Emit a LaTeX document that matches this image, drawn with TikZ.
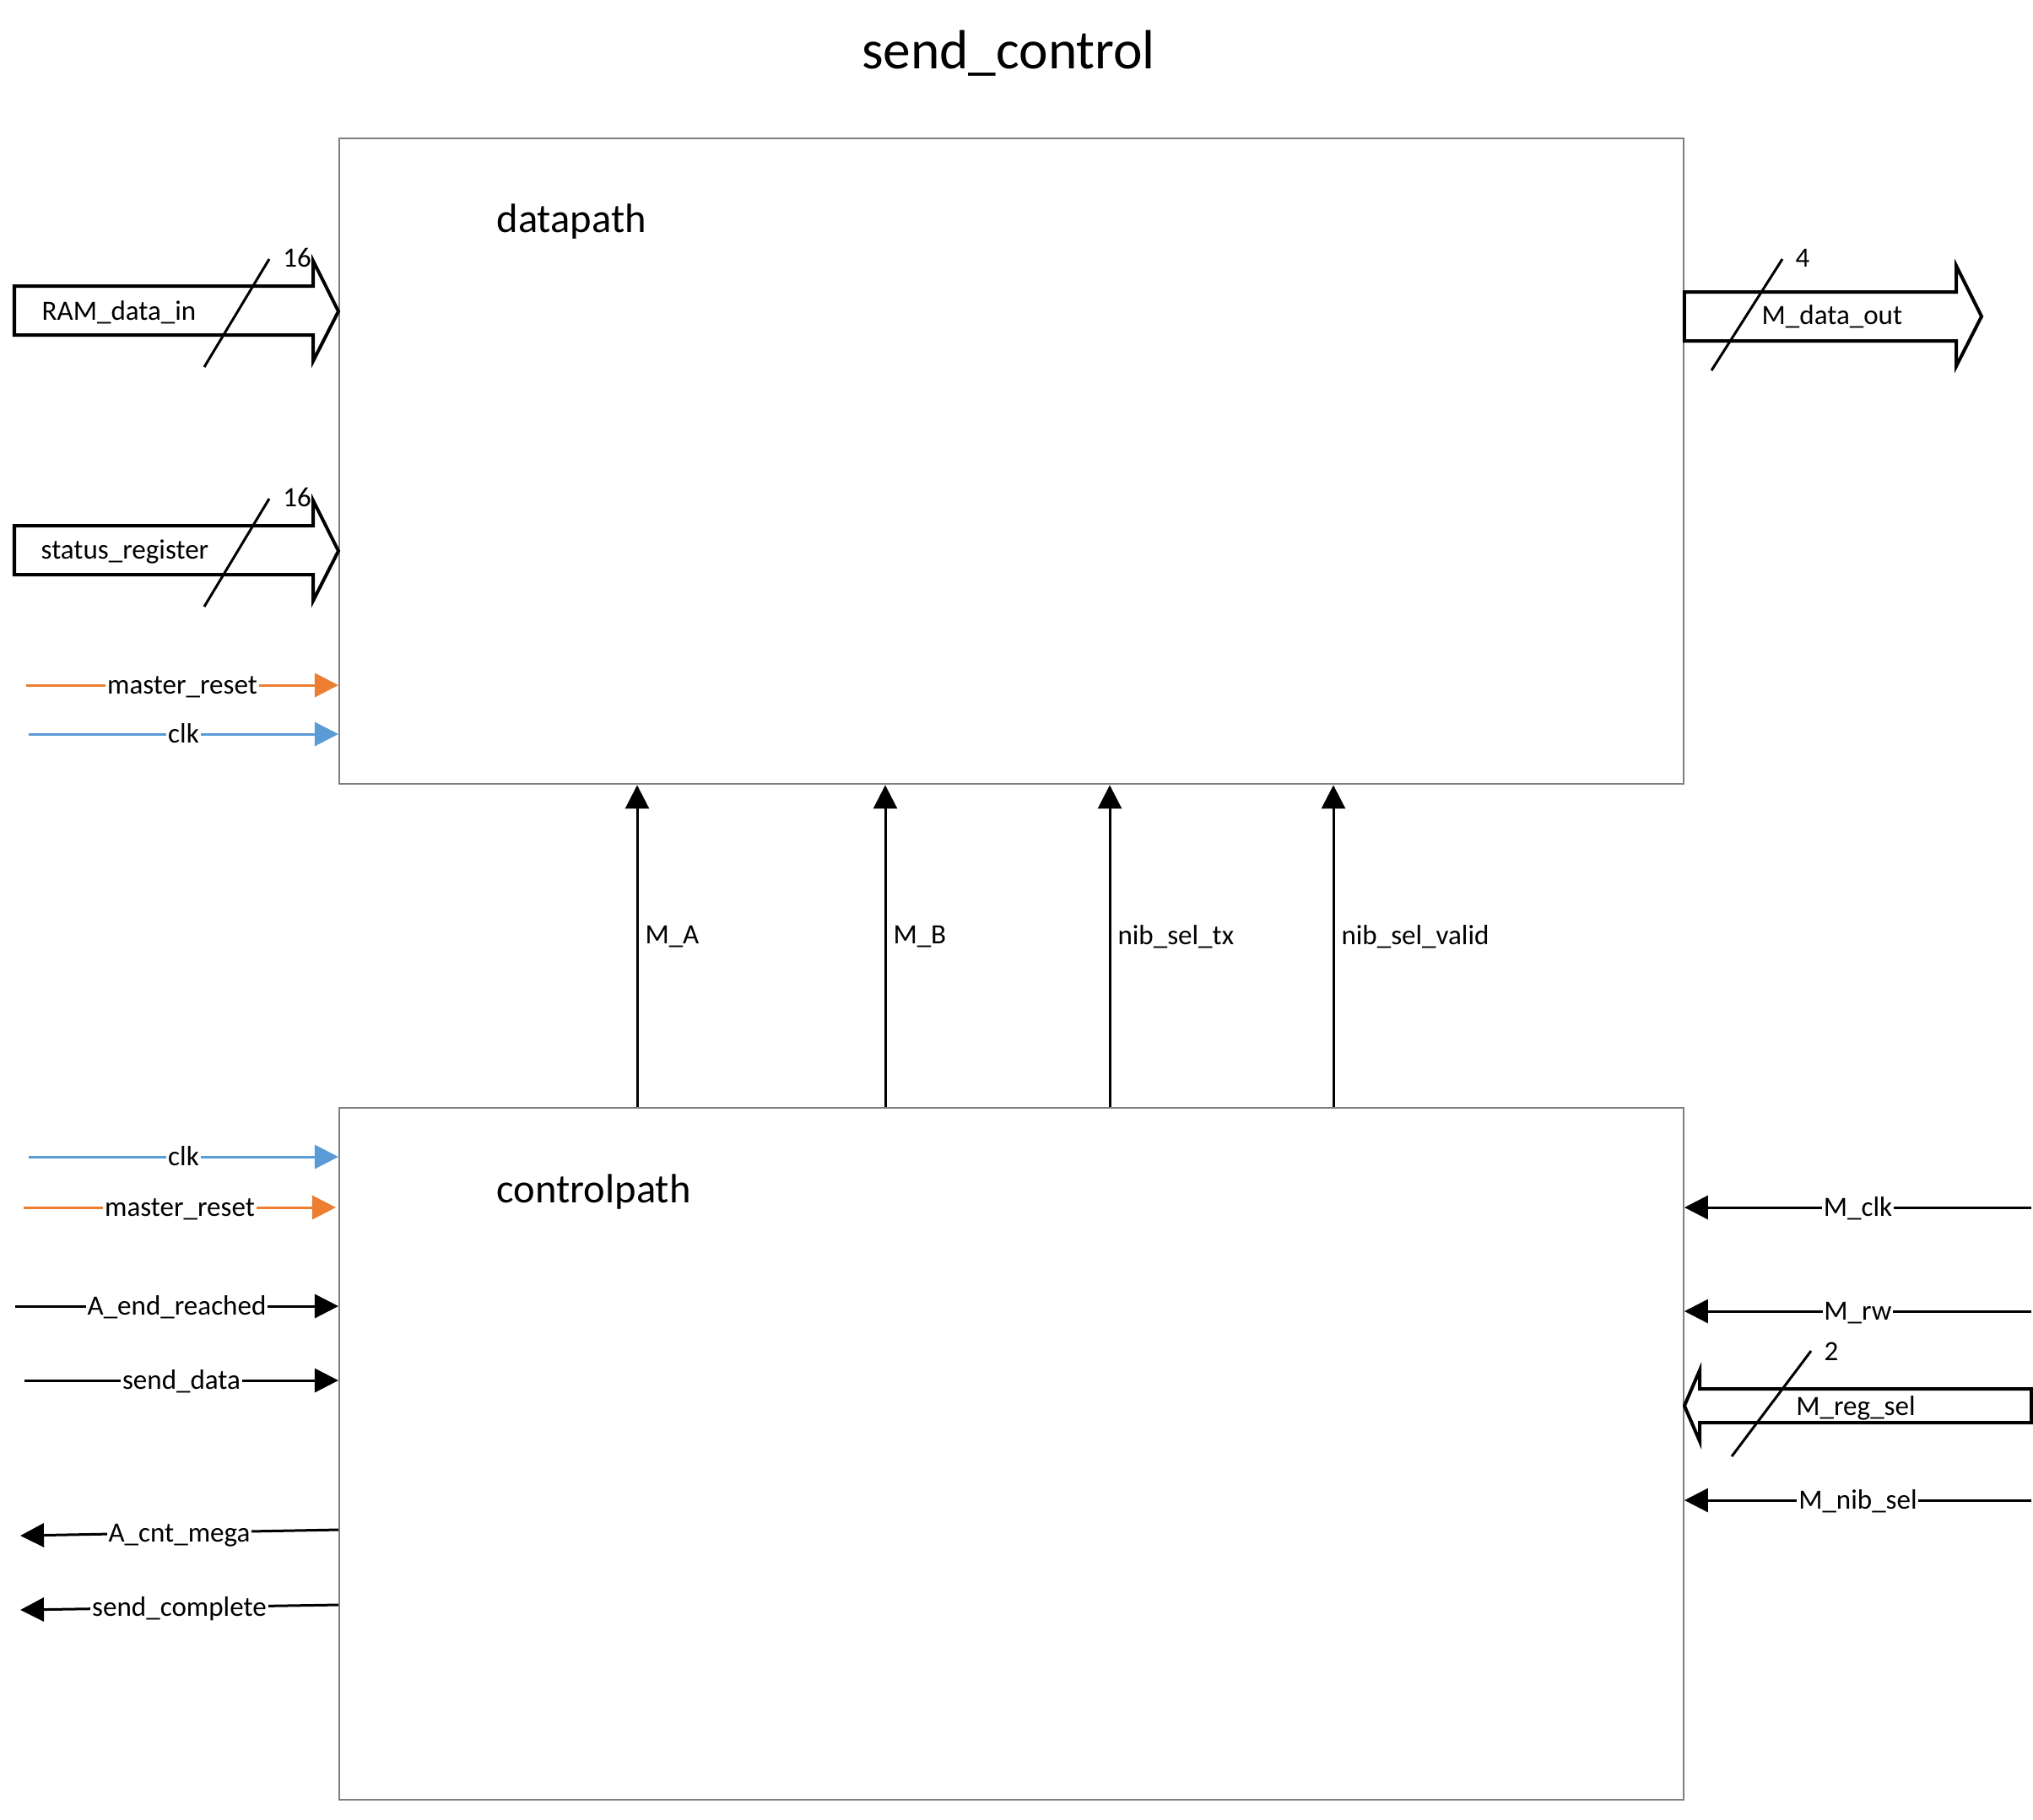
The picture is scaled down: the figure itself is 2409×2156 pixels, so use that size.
\documentclass[tikz,border=0pt]{standalone}
\usepackage{fontspec}
\setmainfont{Carlito}
\usetikzlibrary{arrows.meta,calc}
\definecolor{rstorange}{HTML}{ED7D31}
\definecolor{clkblue}{HTML}{5B9BD5}
\definecolor{boxgray}{HTML}{7F7F7F}

\begin{document}
\begin{tikzpicture}[x=0.01cm, y=-0.01cm]
  \tikzstyle{block}=[draw=boxgray, line width=0.02cm, anchor=north west, inner sep=0pt]
  \tikzstyle{blocklbl}=[font=\fontsize{13.8}{16}\selectfont, anchor=base west, inner sep=0pt]
  \tikzstyle{sig}=[line width=0.03cm, -{Triangle[length=0.28cm, width=0.28cm]}]
  \tikzstyle{lbl}=[font=\fontsize{9.4}{11}\selectfont, fill=white, inner xsep=0.5pt, inner ysep=0pt, text height=0.62em, text depth=0pt]
  \tikzstyle{txt}=[font=\fontsize{9.4}{11}\selectfont, inner sep=0pt]
  \tikzstyle{bus}=[line width=0.04cm, line join=miter]
  \tikzstyle{slash}=[line width=0.03cm]
%  \tikzstyle{every node}=[draw]
  \useasboundingbox (0,0) rectangle (2409,2156);

  \node[font=\fontsize{18.6}{22}\selectfont, anchor=base, inner sep=0pt] (title) at (1195,81) {send\_control};

  \node[block, minimum width=15.92cm, minimum height=7.65cm] (dp) at (401,163) {};
  \node[block, minimum width=15.92cm, minimum height=8.19cm] (cp) at (401,1312) {};
  \node[blocklbl] (dplbl) at (588,275) {datapath};
  \node[blocklbl] (cplbl) at (588,1425) {controlpath};

  % buses into datapath
  \draw[bus] (17,339) -- (371,339) -- (371,309) -- (dp.west |- 0,369)
             -- (371,428) -- (371,397) -- (17,397) -- cycle;
  \draw[slash] (242,435) -- (319,307);
  \node[txt, anchor=base] (ramw) at (352,316) {16};
  \node[txt, anchor=base west] (ram) at (49,379) {RAM\_data\_in};

  \draw[bus] (17,623) -- (371,623) -- (371,593) -- (dp.west |- 0,653)
             -- (371,712) -- (371,681) -- (17,681) -- cycle;
  \draw[slash] (242,719) -- (319,591);
  \node[txt, anchor=base] (statw) at (352,600) {16};
  \node[txt, anchor=base west] (stat) at (48,662) {status\_register};

  % bus out of datapath
  \draw[bus] (dp.east |- 0,346) -- (2318,346) -- (2318,315) -- (2348,375)
             -- (2318,434) -- (2318,404) -- (dp.east |- 0,404) -- cycle;
  \draw[slash] (2028,439) -- (2112,307);
  \node[txt, anchor=base] (doutw) at (2136,316) {4};
  \node[txt, anchor=base west] (dout) at (2087,384) {M\_data\_out};

  \coordinate (dprst) at (31,812);
  \coordinate (dpclk) at (34,870);
  \draw[sig, rstorange] (dprst) -- node[lbl, text=black]{master\_reset} (dprst -| dp.west);
  \draw[sig, clkblue] (dpclk) -- node[lbl, text=black]{clk} (dpclk -| dp.west);

  % controlpath to datapath
  \foreach \x/\t [count=\i] in {755/M\_A, 1049/M\_B, 1315/nib\_sel\_tx, 1580/nib\_sel\_valid}
  {
    \coordinate (v\i) at (\x,1100);
    \draw[sig] (v\i |- cp.north) -- node[txt, pos=0.53, anchor=west, xshift=0.08cm]{\t} (v\i |- dp.south);
  }

  \coordinate (cpclk) at (34,1371);
  \coordinate (cprst) at (28,1431);
  \coordinate (aend) at (18,1548);
  \coordinate (sdata) at (29,1636);
  \coordinate (acnt) at (24,1820);
  \coordinate (scomp) at (24,1908);
  \draw[sig, clkblue] (cpclk) -- node[lbl, text=black]{clk} (cpclk -| cp.west);
  \draw[sig, rstorange] (cprst) -- node[lbl, text=black]{master\_reset} ($(cprst -| cp.west)+(-3,0)$);
  \draw[sig] (aend) -- node[lbl]{A\_end\_reached} (aend -| cp.west);
  \draw[sig] (sdata) -- node[lbl]{send\_data} (sdata -| cp.west);
  \draw[sig] ($(acnt -| cp.west)+(0,-7)$) -- node[lbl]{A\_cnt\_mega} (acnt);
  \draw[sig] ($(scomp -| cp.west)+(0,-6)$) -- node[lbl]{send\_complete} (scomp);

  \coordinate (mclk) at (2407,1431);
  \coordinate (mrw) at (2407,1554);
  \coordinate (mnib) at (2407,1778);
  \draw[sig] (mclk) -- node[lbl]{M\_clk} (mclk -| cp.east);
  \draw[sig] (mrw) -- node[lbl]{M\_rw} (mrw -| cp.east);
  \draw[sig] (mnib) -- node[lbl]{M\_nib\_sel} (mnib -| cp.east);

  % bus into controlpath
  \draw[bus] (2407,1646) -- (2014,1646) -- (2014,1624) -- (cp.east |- 0,1666)
             -- (2014,1708) -- (2014,1686) -- (2407,1686) -- cycle;
  \draw[slash] (2052,1726) -- (2146,1601);
  \node[txt, anchor=base] (regw) at (2170,1612) {2};
  \node[txt, anchor=base] (reg) at (2199,1677) {M\_reg\_sel};
\end{tikzpicture}
\end{document}
